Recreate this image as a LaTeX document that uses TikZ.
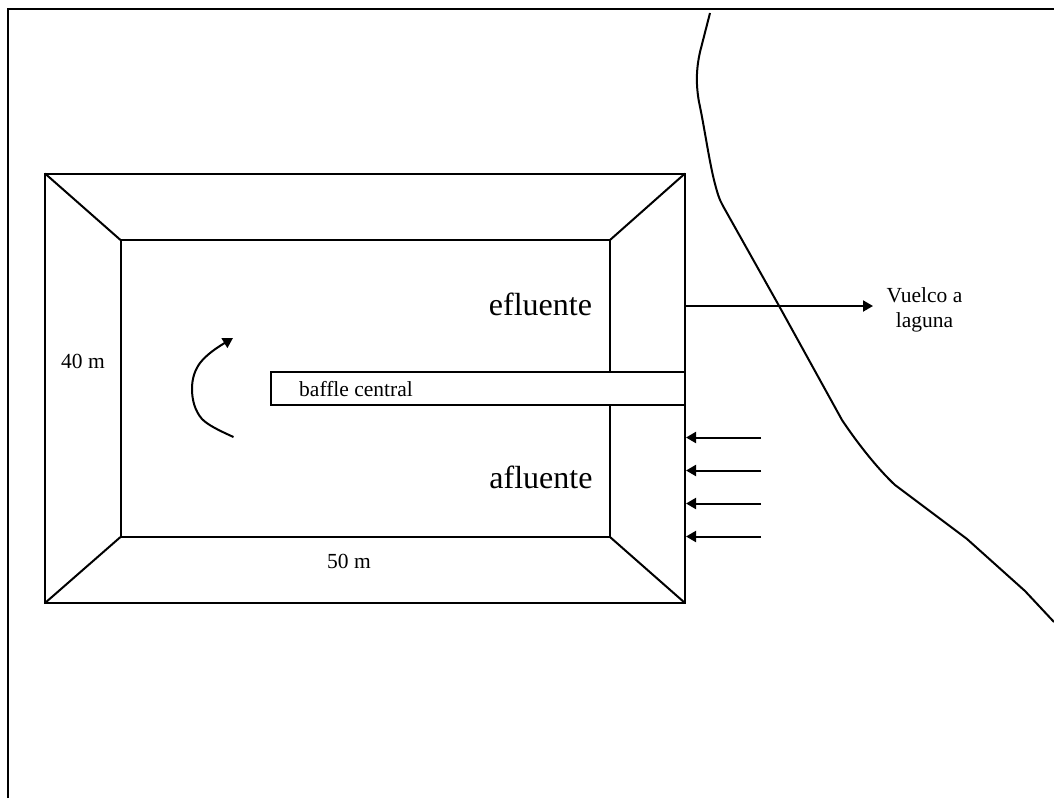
\documentclass[tikz,border=0pt]{standalone}
\usepackage{fontspec}
\setmainfont{Liberation Serif}
\usetikzlibrary{arrows.meta}
\tikzset{
  x=1pt,y=-1pt,
  wall/.style={line width=2pt,draw=black},
  flow/.style={line width=2pt,draw=black,-{Triangle[length=10pt,width=11pt]}},
  lbl/.style={inner sep=0pt,font=\fontsize{21.5}{25}\selectfont,align=center},
  big/.style={inner sep=0pt,font=\fontsize{32}{36}\selectfont}
}
\begin{document}
\begin{tikzpicture}
\useasboundingbox (0,0) rectangle (1054,798);
% frame
\coordinate (fbl) at (7.5,798);
\coordinate (ftl) at (7.5,8.5);
\coordinate (ftr) at (1054,8.5);
\draw[wall] (fbl) -- (ftl) -- (ftr);
% pond
\coordinate (otl) at (45,173.5);
\coordinate (otr) at (685,173.5);
\coordinate (obr) at (685,603);
\coordinate (obl) at (45,603);
\coordinate (itl) at (120.5,240);
\coordinate (itr) at (610,240);
\coordinate (ibr) at (610,537);
\coordinate (ibl) at (120.5,537);
\draw[wall] (otl) -- (otr) -- (obr) -- (obl) -- cycle;
\draw[wall] (itl) -- (itr) -- (ibr) -- (ibl) -- cycle;
\draw[wall] (otl) -- (itl);
\draw[wall] (otr) -- (itr);
\draw[wall] (obr) -- (ibr);
\draw[wall] (obl) -- (ibl);
% baffle
\coordinate (bbl) at (270.5,405);
\coordinate (btl) at (270.5,372);
\coordinate (btr) at (685,372);
\coordinate (bbr) at (685,405);
\fill[white] (btl) rectangle (bbr);
\draw[wall] (btr) -- (btl) -- (bbl) -- (bbr);
\draw[wall] (otr) -- (obr);
% labels
\node[lbl,anchor=west] (baffle) at (299,389) {baffle central};
\node[big] (efl) at (540.5,304) {efluente};
\node[big] (afl) at (541,477) {afluente};
\node[lbl] (w) at (83,361.5) {40 m};
\node[lbl] (l) at (349,561) {50 m};
\node[lbl] (vu) at (924.5,309.5) {Vuelco a\\laguna};
% outlet
\coordinate (os) at (685,306);
\coordinate (oe) at (873,306);
\draw[flow] (os) -- (oe);
% inlets
\foreach \n/\y in {a/437.5,b/470.5,c/503.5,d/536.5}{
  \coordinate (\n s) at (761,\y);
  \coordinate (\n e) at (686,\y);
  \draw[flow] (\n s) -- (\n e);
}
% swirl
\coordinate (ss) at (233.5,437);
\coordinate (se) at (233,338);
\draw[flow] (ss) .. controls (218,430) and (208,425) .. (202,419)
  .. controls (195,411) and (192,400) .. (192,389)
  .. controls (192,378) and (195,370) .. (200,363)
  .. controls (207,354) and (218,347) .. (se);
% river
\coordinate (r0) at (710,13);
\coordinate (r9) at (1054,622);
\draw[line width=2pt,line join=round] (r0) -- (700,52)
  .. controls (696,70) and (696,85) .. (699,102)
  .. controls (704,125) and (709,160) .. (714,180)
  .. controls (717,192) and (719,199) .. (723,206)
  -- (778,304) -- (842,420)
  .. controls (860,447) and (880,471) .. (895,485)
  -- (967,539) -- (1025,591) -- (r9);
\end{tikzpicture}
\end{document}
